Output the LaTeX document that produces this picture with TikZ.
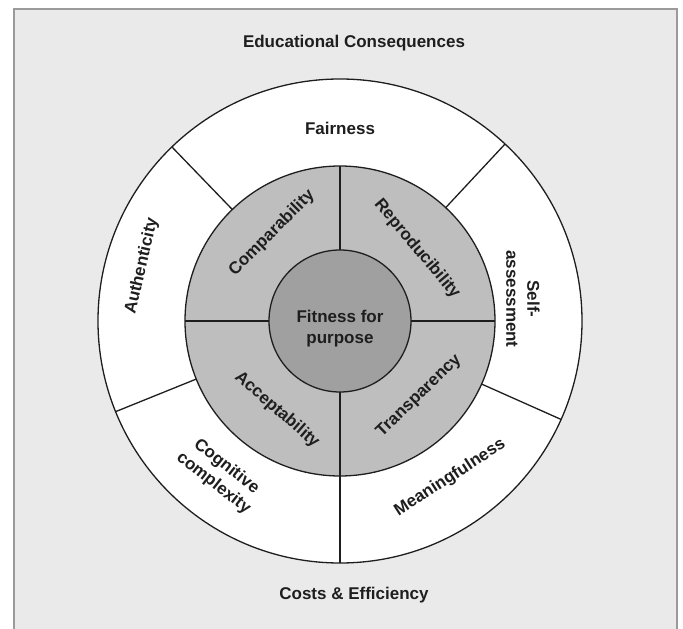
\documentclass[tikz,border=0pt]{standalone}
\usepackage{fontspec}
\setmainfont{Liberation Sans}
\definecolor{bggray}{HTML}{EAEAEA}
\definecolor{framegray}{HTML}{9A9A9A}
\definecolor{midgray}{HTML}{BEBEBE}
\definecolor{coregray}{HTML}{A0A0A0}
\definecolor{ink}{HTML}{1E1E1E}
\begin{document}
\begin{tikzpicture}[x=1pt,y=1pt,
  ring/.style={circle, draw=ink, line width=1.3pt, inner sep=0pt, outer sep=0pt},
  lbl/.style={font=\fontsize{17}{21}\selectfont\bfseries, text=ink, align=center, inner sep=0pt},
  divider/.style={draw=ink, line width=1.3pt}]
\useasboundingbox (-340,-308) rectangle (343,321);
\clip (-340,-308) rectangle (343,321);
\fill[white] (-340,-308) rectangle (343,321);
\draw[fill=bggray, draw=framegray, line width=2pt] (-326,312) rectangle (337,-330);
% rings
\node[ring, fill=white, minimum size=484pt] (outer) at (0,0) {};
\node[ring, fill=midgray, minimum size=310pt] (mid) at (0,0) {};
\node[ring, fill=coregray, minimum size=142pt] (core) at (0,0) {};
% middle ring dividers
\foreach \a in {0,90,180,270} \draw[divider] (core.\a) -- (mid.\a);
% outer ring dividers
\foreach \a in {47,134,202,270,336} \draw[divider] (mid.\a) -- (outer.\a);
% titles
\node[lbl] (edu) at (14,278) {Educational Consequences};
\node[lbl] (cost) at (14,-274) {Costs \& Efficiency};
% core
\node[lbl] (fit) at (0,-8) {Fitness for\\purpose};
% middle ring labels
\node[lbl, rotate=45] (comp) at (-68,88) {Comparability};
\node[lbl, rotate=-50] (repr) at (77,72) {Reproducibility};
\node[lbl, rotate=44] (trans) at (79,-75) {Transparency};
\node[lbl, rotate=-41] (acc) at (-63,-89) {Acceptability};
% outer ring labels
\node[lbl] (fair) at (0,193) {Fairness};
\node[lbl, rotate=77] (auth) at (-198,55) {Authenticity};
\node[lbl, rotate=-90] (self) at (183,22) {Self-\\assessment};
\node[lbl, rotate=33] (mean) at (110,-157) {Meaningfulness};
\node[lbl, rotate=-38] (cogn) at (-120,-154) {Cognitive\\complexity};
\end{tikzpicture}
\end{document}
